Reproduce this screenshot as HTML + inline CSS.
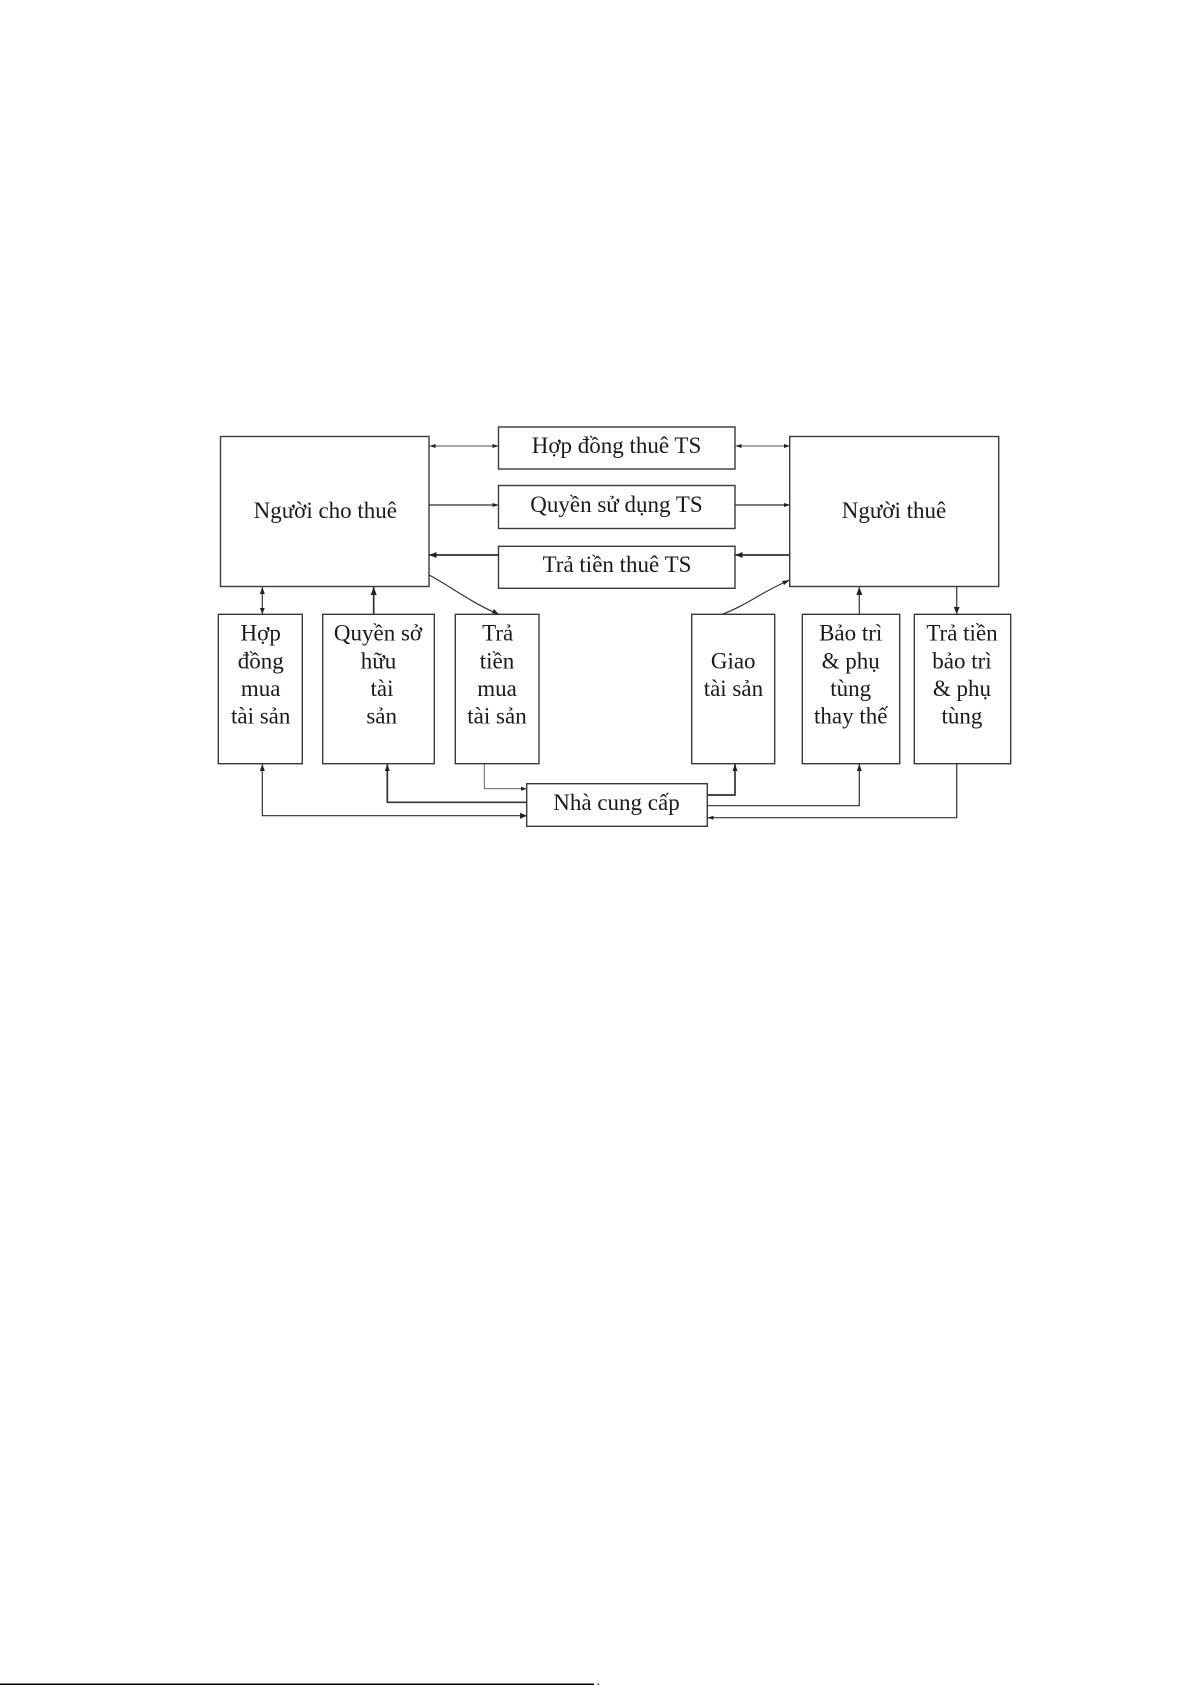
<!DOCTYPE html>
<html lang="vi">
<head>
<meta charset="utf-8">
<title>Sơ đồ thuê tài sản</title>
<style>
html,body{margin:0;padding:0;background:#fff;width:1191px;height:1685px;overflow:hidden}
svg{display:block}
text{font-family:"Liberation Serif",serif;font-size:23px;fill:#1a1a1a;text-anchor:middle}
.b{fill:#fff;stroke:#3a3a3a;stroke-width:1.4}
.h{fill:none;stroke:#555;stroke-width:.9}
.l{fill:none;stroke:#333;stroke-width:1.2}
.t{fill:none;stroke:#333;stroke-width:1.7}
.a{fill:#222}
</style>
</head>
<body>
<svg width="1191" height="1685" viewBox="0 0 1191 1685" xmlns="http://www.w3.org/2000/svg">
<rect x="220.5" y="436.5" width="208.5" height="150" class="b"/>
<rect x="789.7" y="436.5" width="209" height="150" class="b"/>
<rect x="498.5" y="427" width="236.5" height="42" class="b"/>
<rect x="498.5" y="485.5" width="236.5" height="43" class="b"/>
<rect x="498.5" y="546.3" width="236.5" height="42" class="b"/>
<rect x="218.3" y="614.3" width="84" height="149.4" class="b"/>
<rect x="322.7" y="614.3" width="111.6" height="149.4" class="b"/>
<rect x="455.3" y="614.3" width="83.7" height="149.4" class="b"/>
<rect x="691.7" y="614.3" width="83" height="149.4" class="b"/>
<rect x="802.3" y="614.3" width="97.4" height="149.4" class="b"/>
<rect x="914.3" y="614.3" width="96.4" height="149.4" class="b"/>
<rect x="526.7" y="783.7" width="180.6" height="42.6" class="b"/>

<path class="h" d="M429 446H498.5M735 446H790"/>
<path class="l" d="M429 505H498.5M735 505H790"/>
<path class="t" d="M429 555H498.5M735 555H790"/>
<path class="l" d="M429 575C450 586 470 602 498 614"/>
<path class="l" d="M723 614C745 606 765 590 790 580"/>
<path class="l" d="M262.3 587V614"/>
<path class="t" d="M373.7 587V614"/>
<path class="l" d="M859.3 587V614"/>
<path class="l" d="M956.7 587V614"/>
<path class="l" d="M262.3 764V815.7H527"/>
<path class="t" d="M387.3 764V802.3H527"/>
<path class="h" d="M484.3 764V788.7H527"/>
<path class="t" d="M707 795H735V764"/>
<path class="l" d="M707 805.7H859.3V764"/>
<path class="l" d="M956.7 764V817.7H707"/>

<g class="a">
<path d="M429.5 446l6-2v4zM498.5 446l-6-2v4zM735.5 446l6-2v4zM790 446l-6-2v4z"/>
<path d="M498.5 505l-6-2v4zM790 505l-6-2v4z"/>
<path d="M429.5 555l7-3v6zM735.5 555l7-3v6z"/>
<path d="M499 614.5l-7-1.5 2-4zM790 580l-6 5-2-4z"/>
<path d="M262.3 587l-2.5 7h5zM262.3 614l-2.5-6h5zM373.7 587l-3 8h6zM859.3 587l-3 8h6zM956.7 614l-3-7h6z"/>
<path d="M262.3 764l-2.5 7h5zM387.3 764l-2.5 7h5zM735 764l-2.5 7h5zM859.3 764l-2.5 7h5z"/>
<path d="M527 815.7l-7-3v6zM527 788.7l-6-2v4zM707.5 817.7l6-2v4z"/>
</g>

<text x="325.3" y="518">Người cho thuê</text>
<text x="894" y="518">Người thuê</text>
<text x="616.5" y="453">Hợp đồng thuê TS</text>
<text x="616.5" y="512">Quyền sử dụng TS</text>
<text x="617" y="572">Trả tiền thuê TS</text>
<text x="616.5" y="810">Nhà cung cấp</text>

<text x="260.7" y="640.7">Hợp</text>
<text x="260.7" y="668.3">đồng</text>
<text x="260.7" y="696">mua</text>
<text x="260.7" y="723.3">tài sản</text>

<text x="378" y="640.7">Quyền sở</text>
<text x="378.5" y="668.3">hữu</text>
<text x="382" y="696">tài</text>
<text x="381.7" y="723.3">sản</text>

<text x="497.7" y="640.7">Trả</text>
<text x="497" y="668.3">tiền</text>
<text x="497" y="696">mua</text>
<text x="497" y="723.3">tài sản</text>

<text x="733.2" y="668.3">Giao</text>
<text x="733.4" y="696">tài sản</text>

<text x="850.7" y="640.7">Bảo trì</text>
<text x="850.7" y="668.3">&amp; phụ</text>
<text x="850.7" y="696">tùng</text>
<text x="850.7" y="723.3">thay thế</text>

<text x="962" y="640.7">Trả tiền</text>
<text x="962" y="668.3">bảo trì</text>
<text x="962" y="696">&amp; phụ</text>
<text x="962" y="723.3">tùng</text>

<rect x="0" y="1683.5" width="594" height="1.5" fill="#000"/>
<rect x="597.5" y="1683.5" width="1.5" height="1.5" fill="#333"/>
</svg>
</body>
</html>
